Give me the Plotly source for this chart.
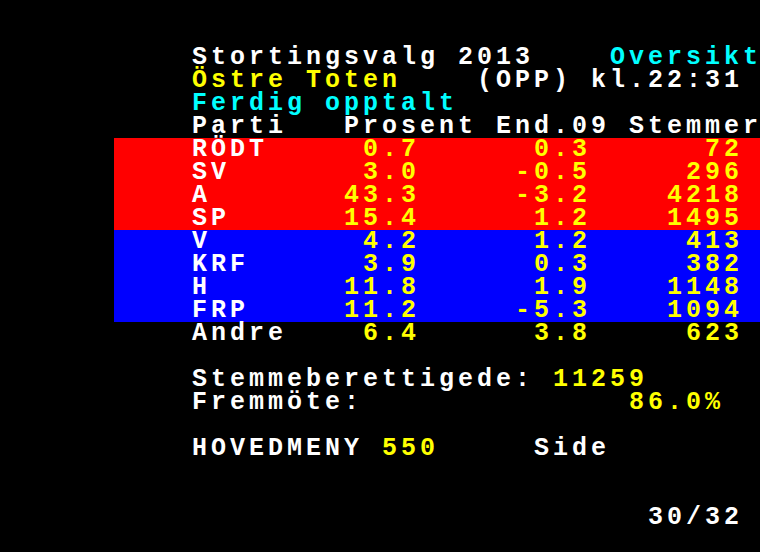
import plotly.graph_objects as go

# teletext page: 40 columns x 24 rows
title = "Stortingsvalg 2013"
section = "Oversikt"
kommune = "Östre Toten"
status = "(OPP) kl.22:31"
counted = "Ferdig opptalt"
headers = ["Parti", "Prosent", "End.09", "Stemmer"]
parties = ["RÖDT", "SV", "A", "SP", "V", "KRF", "H", "FRP", "Andre"]
prosent = [0.7, 3.0, 43.3, 15.4, 4.2, 3.9, 11.8, 11.2, 6.4]
endring = [0.3, -0.5, -3.2, 1.2, 1.2, 0.3, 1.9, -5.3, 3.8]
stemmer = [72, 296, 4218, 1495, 413, 382, 1148, 1094, 623]
blocks = ["red"] * 4 + ["blue"] * 4 + [None]
stemmeberettigede = 11259
fremmote = 86.0
hovedmeny = 550
side = "30/32"

WHITE = "#ffffff"
YELLOW = "#ffff00"
CYAN = "#00ffff"
block_fill = {"red": "#ff0000", "blue": "#0000ff"}

items = []  # (row, col, text, color)
items.append((2, 10, title, WHITE))
items.append((2, 32, section, CYAN))
items.append((3, 10, kommune, YELLOW))
items.append((3, 25, status, WHITE))
items.append((4, 10, counted, CYAN))
items.append((5, 10, headers[0], WHITE))
items.append((5, 18, headers[1], WHITE))
items.append((5, 26, headers[2], WHITE))
items.append((5, 33, headers[3], WHITE))

for i, p in enumerate(parties):
    r = 6 + i
    items.append((r, 10, p, WHITE))
    s = "%.1f" % prosent[i]
    items.append((r, 22 - len(s), s, YELLOW))
    s = "%.1f" % endring[i]
    items.append((r, 31 - len(s), s, YELLOW))
    s = str(stemmer[i])
    items.append((r, 39 - len(s), s, YELLOW))

items.append((16, 10, "Stemmeberettigede:", WHITE))
items.append((16, 29, str(stemmeberettigede), YELLOW))
items.append((17, 10, "Fremmöte:", WHITE))
items.append((17, 33, "%.1f%%" % fremmote, YELLOW))
items.append((19, 10, "HOVEDMENY", WHITE))
items.append((19, 20, str(hovedmeny), YELLOW))
items.append((19, 28, "Side", WHITE))
items.append((22, 39 - len(side), side, WHITE))

xs, ys, chars, cols = [], [], [], []
for r, c, text, color in items:
    for k, ch in enumerate(text):
        if ch == " ":
            continue
        xs.append(c + k + 0.5)
        ys.append(r + 0.5)
        chars.append(ch)
        cols.append(color)

fig = go.Figure()

# coloured bands behind the party rows
for i, b in enumerate(blocks):
    if b is None:
        continue
    fig.add_shape(type="rect", xref="x", yref="y", x0=6, x1=40, y0=6 + i, y1=7 + i,
                  fillcolor=block_fill[b], line_width=0, layer="below")

fig.add_trace(go.Scatter(x=xs, y=ys, text=chars, mode="text", textposition="middle center",
                         textfont=dict(family="Liberation Mono", size=25, color=cols, weight="bold"),
                         hoverinfo="skip", showlegend=False, cliponaxis=False))

fig.update_xaxes(range=[0, 40], visible=False, fixedrange=True)
fig.update_yaxes(range=[24, 0], visible=False, fixedrange=True)
fig.update_layout(width=760, height=552, margin=dict(l=0, r=0, t=0, b=0),
                  paper_bgcolor="#000000", plot_bgcolor="#000000")

fig.write_html("out.html", config={"displayModeBar": False},
               post_script="document.body.style.margin='0';document.body.style.background='#000';")
